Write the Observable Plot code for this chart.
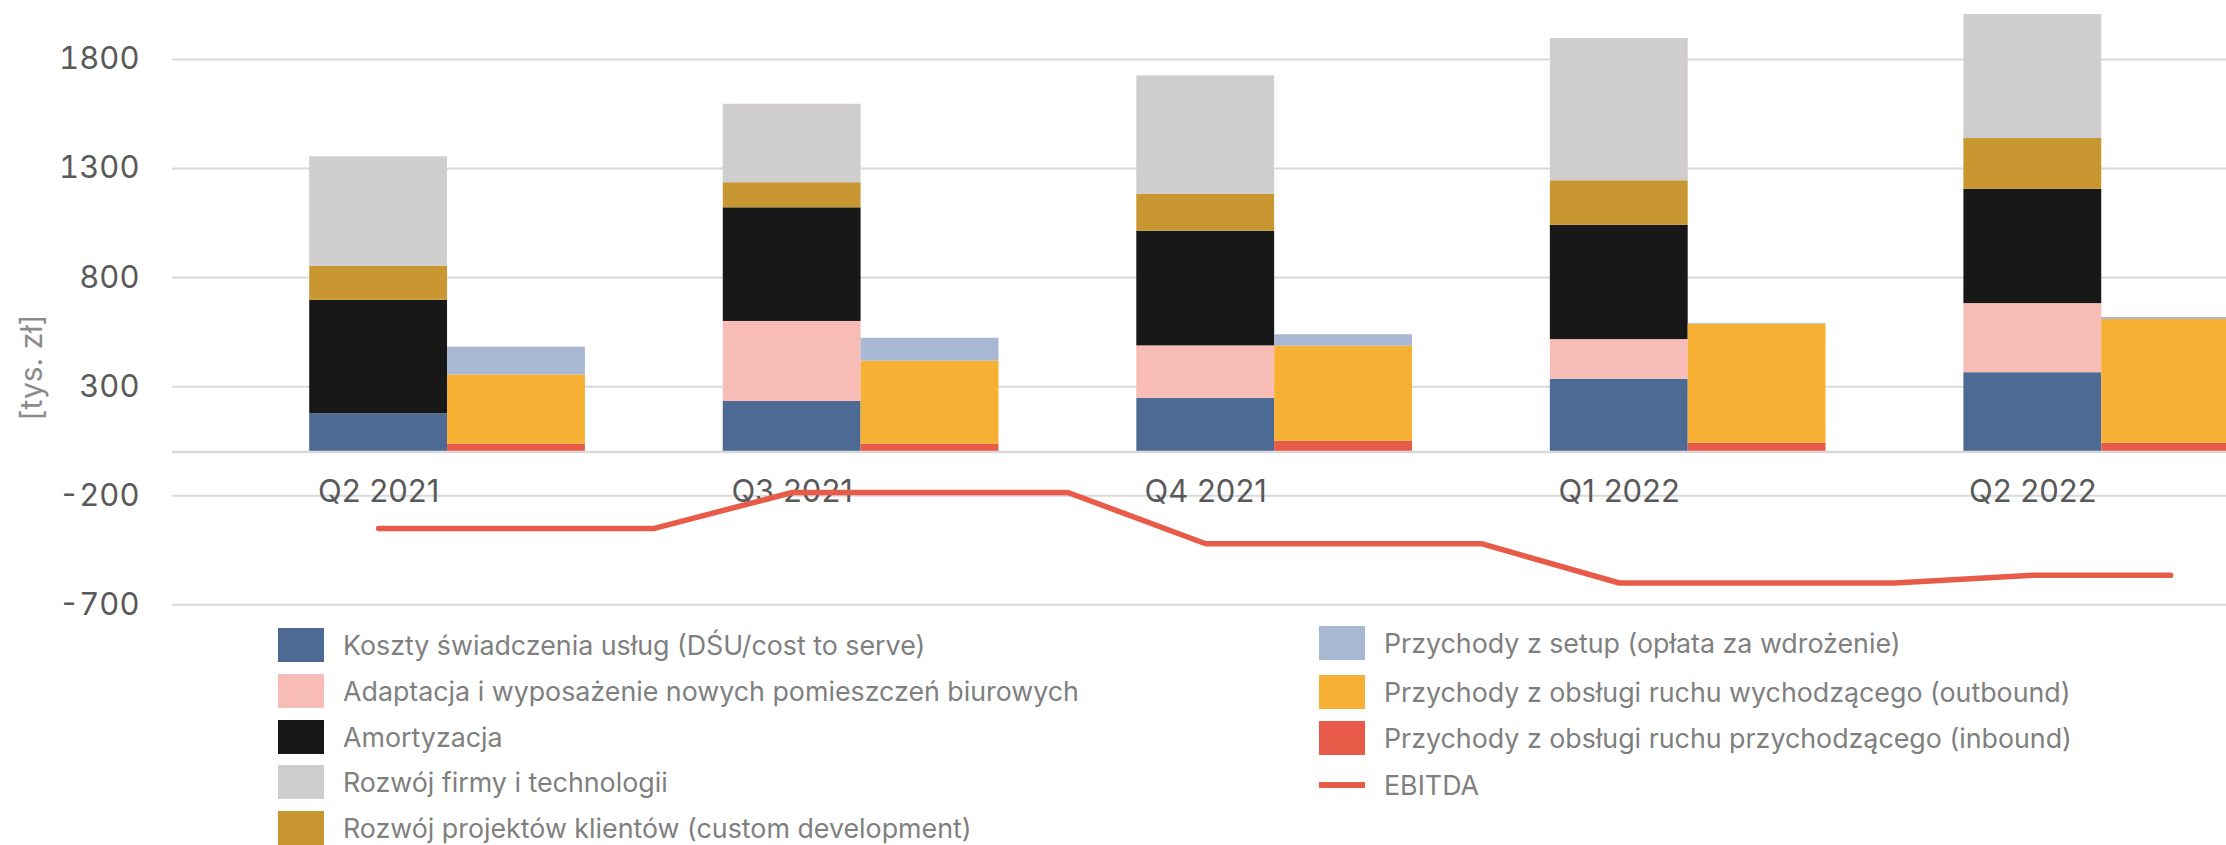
<!DOCTYPE html>
<html>
<head>
<meta charset="utf-8">
<script src="https://cdn.jsdelivr.net/npm/d3@7"></script>
<script src="https://cdn.jsdelivr.net/npm/@observablehq/plot@0.6"></script>
<style>
  html, body { margin: 0; padding: 0; background: #fff; overflow: hidden; }
  #wrap { position: relative; width: 2226px; height: 845px; font-family: Inter, "Noto Sans", sans-serif; }
  #chart { position: absolute; left: 0; top: 0; }
  .lg { position: absolute; display: flex; align-items: center; height: 34px; color: #7f7f7f; font-size: 26.8px; white-space: nowrap; }
  .sw { width: 46px; height: 34px; margin-right: 19px; flex: none; }
  .ln { width: 46px; height: 6px; margin-right: 19px; flex: none; }
</style>
</head>
<body>
<div id="wrap"><div id="chart"></div><div id="legend"></div></div>
<script>
// ---- data ----
const quarters = ["Q2 2021", "Q3 2021", "Q4 2021", "Q1 2022", "Q2 2022"];
const months = ["2021-04","2021-05","2021-06","2021-07","2021-08","2021-09","2021-10","2021-11","2021-12",
                "2022-01","2022-02","2022-03","2022-04","2022-05","2022-06"];
const yTicks = [1800, 1300, 800, 300, -200, -700];

// cost stack (bottom to top)
const costNames = [
  "Koszty świadczenia usług (DŚU/cost to serve)",
  "Adaptacja i wyposażenie nowych pomieszczeń biurowych",
  "Amortyzacja",
  "Rozwój projektów klientów (custom development)",
  "Rozwój firmy i technologii"
];
const kosztyDSU      = [176, 232, 247, 334, 364];
const adaptacja      = [0, 367, 240, 182, 317];
const amortyzacja    = [520, 521, 526, 524, 524];
const rozwojProjekt  = [156, 115, 169, 204, 233];
const rozwojFirmy    = [502, 360, 543, 652, 568];
const costColors = ["#4d6a94", "#f6bcb5", "#181818", "#c99731", "#cfcdce"];

// revenue stack (bottom to top)
const revNames = [
  "Przychody z obsługi ruchu przychodzącego (inbound)",
  "Przychody z obsługi ruchu wychodzącego (outbound)",
  "Przychody z setup (opłata za wdrożenie)"
];
const inbound  = [36, 36, 50, 41, 41];
const outbound = [318, 381, 436, 545, 567];
const setup    = [127, 105, 52, 4, 9];
const revColors = ["#e85b48", "#f6b033", "#a8b8d3"];

// EBITDA (monthly points)
const ebitdaMonths = months.slice(0, 14);
const ebitda = [-350, -350, -350, -185, -185, -185, -420, -420, -420, -600, -600, -600, -565, -565];
const lineColor = "#e85b48";

// legend order
const legendLeft = [costNames[0], costNames[1], costNames[2], costNames[4], costNames[3]];
const legendLeftColors = [costColors[0], costColors[1], costColors[2], costColors[4], costColors[3]];
const legendRight = [revNames[2], revNames[1], revNames[0]];
const legendRightColors = [revColors[2], revColors[1], revColors[0]];

// ---- build tables ----
const costValues = [kosztyDSU, adaptacja, amortyzacja, rozwojProjekt, rozwojFirmy];
const revValues = [inbound, outbound, setup];
const rows = [];
costNames.forEach((name, s) => quarters.forEach((q, i) =>
  rows.push({slot: months[3 * i], series: name, value: costValues[s][i]})));
revNames.forEach((name, s) => quarters.forEach((q, i) =>
  rows.push({slot: months[3 * i + 1], series: name, value: revValues[s][i]})));
const lineRows = ebitdaMonths.map((m, i) => ({slot: m, value: ebitda[i]}));
const labelRows = quarters.map((q, i) => ({slot: months[3 * i], label: q}));

const slotW = 137.85, start = 309.2;
const chart = Plot.plot({
  width: 2226,
  height: 620,
  marginLeft: 172,
  marginRight: 0,
  marginTop: 0,
  marginBottom: 0,
  style: {fontFamily: "Inter, 'Noto Sans', sans-serif", color: "#595959", background: "transparent", overflow: "visible"},
  x: {type: "band", domain: months, range: [start, start + months.length * slotW], padding: 0, round: false, axis: null},
  y: {domain: [-700, 1800], range: [604.3, 59], axis: null},
  color: {domain: [...costNames, ...revNames], range: [...costColors, ...revColors]},
  marks: [
    Plot.gridY(yTicks, {stroke: "#d9d9d9", strokeOpacity: 1, strokeWidth: 2}),
    Plot.axisY(yTicks, {tickSize: 0, tickPadding: 33, fontSize: 31, fill: "#595959", label: null, tickFormat: d => String(d)}),
    Plot.barY(rows, {x: "slot", y: "value", fill: "series"}),
    Plot.ruleY([0], {stroke: "#d9d9d9", strokeWidth: 2.5}),
    Plot.text(labelRows, {x: "slot", y: () => 0, text: "label", dy: 40, fontSize: 31, fill: "#595959", lineAnchor: "middle"}),
    Plot.line(lineRows, {x: "slot", y: "value", stroke: lineColor, strokeWidth: 5.5, strokeLinecap: "round", strokeLinejoin: "round"}),
    Plot.text(["[tys. zł]"], {frameAnchor: "top-left", dx: -140, dy: 367, rotate: -90, textAnchor: "middle", lineAnchor: "middle", fontSize: 30, fill: "#8c8c8c"})
  ]
});
document.getElementById("chart").appendChild(chart);

// ---- legend ----
const legend = document.getElementById("legend");
function addItem(left, cy, name, color, isLine) {
  const d = document.createElement("div");
  d.className = "lg";
  d.style.left = left + "px";
  d.style.top = (cy - 17) + "px";
  const s = document.createElement("div");
  s.className = isLine ? "ln" : "sw";
  s.style.background = color;
  d.appendChild(s);
  const t = document.createElement("span");
  t.textContent = name;
  d.appendChild(t);
  legend.appendChild(d);
}
const leftRowsY = [645, 691, 737, 782, 828];
legendLeft.forEach((n, i) => addItem(278, leftRowsY[i], n, legendLeftColors[i], false));
const rightRowsY = [643, 692, 738, 785];
legendRight.forEach((n, i) => addItem(1319, rightRowsY[i], n, legendRightColors[i], false));
addItem(1319, rightRowsY[3], "EBITDA", lineColor, true);
</script>
</body>
</html>
